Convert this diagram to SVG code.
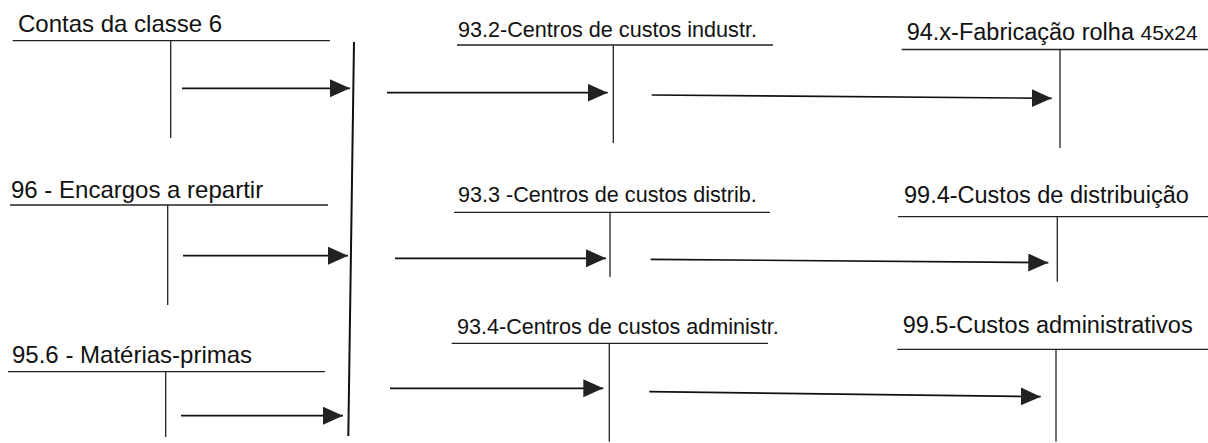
<svg xmlns="http://www.w3.org/2000/svg" width="1208" height="443" viewBox="0 0 1208 443">
<style>
text{font-family:"Liberation Sans",Arial,sans-serif;fill:#111}
.l{font-size:24px}
.m{font-size:21.6px}
.r{font-size:23.5px}
.u{stroke:#222;stroke-width:1.3;fill:none}
.v{stroke:#222;stroke-width:1.3;fill:none}
.a{stroke:#111;stroke-width:1.7;fill:none;marker-end:url(#ah)}
</style>
<defs>
<marker id="ah" markerUnits="userSpaceOnUse" markerWidth="22" markerHeight="20" refX="20" refY="9" orient="auto">
<path d="M0,0 L20,9 L0,18 Z" fill="#222"/>
</marker>
</defs>
<rect width="1208" height="443" fill="#fff"/>
<g id="contas6">
<text class="l" x="18" y="32">Contas da classe 6</text>
<line class="u" x1="12.7" y1="40.7" x2="330" y2="40.7"/>
<line class="v" x1="170.7" y1="41" x2="170.7" y2="138"/>
</g>
<g id="encargos96">
<text class="l" x="11" y="198">96 - Encargos a repartir</text>
<line class="u" x1="10" y1="205" x2="328" y2="205"/>
<line class="v" x1="167.7" y1="205" x2="167.7" y2="305"/>
</g>
<g id="materias956">
<text class="l" x="12" y="363">95.6 - Matérias-primas</text>
<line class="u" x1="8" y1="371.7" x2="325" y2="371.7"/>
<line class="v" x1="165.7" y1="372" x2="165.7" y2="437"/>
</g>
<g id="collector">
<line x1="354" y1="42" x2="348.3" y2="436" stroke="#111" stroke-width="2"/>
</g>
<g id="centro932">
<text class="m" x="458" y="37.3">93.2-Centros de custos industr.</text>
<line class="u" x1="457" y1="45" x2="773" y2="45"/>
<line class="v" x1="613.3" y1="45" x2="613.3" y2="143"/>
</g>
<g id="centro933">
<text class="m" x="458" y="201.7">93.3 -Centros de custos distrib.</text>
<line class="u" x1="454" y1="212.3" x2="770" y2="212.3"/>
<line class="v" x1="610" y1="212.3" x2="610" y2="277"/>
</g>
<g id="centro934">
<text class="m" x="457" y="334.3">93.4-Centros de custos administr.</text>
<line class="u" x1="451.7" y1="343.3" x2="768" y2="343.3"/>
<line class="v" x1="609.3" y1="343.3" x2="609.3" y2="441.7"/>
</g>
<g id="fabricacao94">
<text class="r" x="906.7" y="39.5">94.x-Fabricação rolha <tspan style="font-size:21px">45x24</tspan></text>
<line class="u" x1="901.7" y1="49.5" x2="1208" y2="49.5"/>
<line class="v" x1="1060" y1="49.5" x2="1060" y2="148"/>
</g>
<g id="distribuicao994">
<text class="r" x="904" y="203.3">99.4-Custos de distribuição</text>
<line class="u" x1="898" y1="216.7" x2="1208" y2="216.7"/>
<line class="v" x1="1057.3" y1="216.7" x2="1057.3" y2="281.7"/>
</g>
<g id="administrativos995">
<text class="r" x="902.7" y="332.5">99.5-Custos administrativos</text>
<line class="u" x1="897.3" y1="349.3" x2="1208" y2="349.3"/>
<line class="v" x1="1056" y1="349.3" x2="1056" y2="441.7"/>
</g>
<g id="connectors">
<line class="a" x1="182" y1="88.3" x2="350" y2="88.3"/>
<line class="a" x1="183" y1="255.7" x2="348" y2="255.7"/>
<line class="a" x1="181" y1="415.7" x2="343" y2="415.7"/>
<line class="a" x1="387" y1="92.7" x2="607.7" y2="92.7"/>
<line class="a" x1="395" y1="258.3" x2="606" y2="258.3"/>
<line class="a" x1="390" y1="388.3" x2="603.3" y2="388.3"/>
<line class="a" x1="651.7" y1="95" x2="1051.7" y2="98.3"/>
<line class="a" x1="650.7" y1="259.3" x2="1048.3" y2="262.7"/>
<line class="a" x1="649.3" y1="391.7" x2="1040.7" y2="396.7"/>
</g>
</svg>
